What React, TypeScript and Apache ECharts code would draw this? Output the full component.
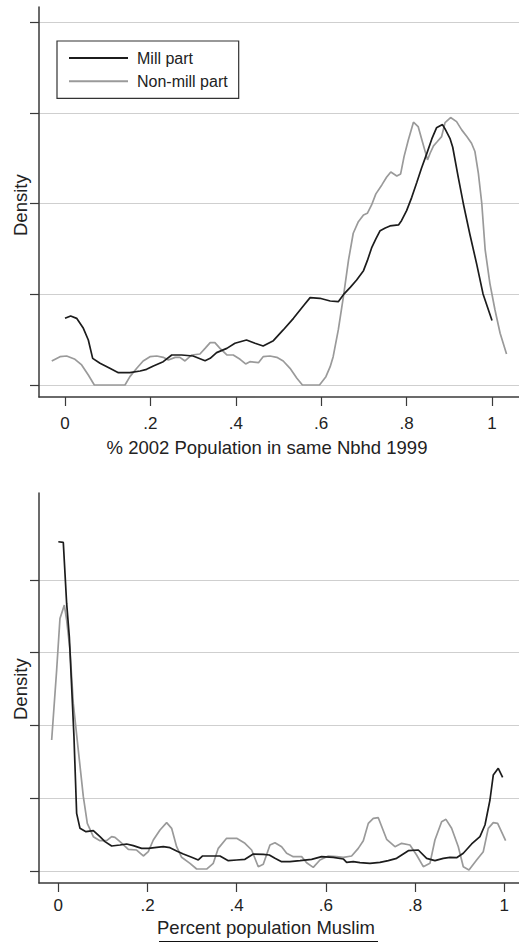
import React, { useEffect, useRef } from "react";
import * as echarts from "echarts";

// ---- Data ----
const seriesNames = ["Mill part", "Non-mill part"];
const xTickValues = [0, 0.2, 0.4, 0.6, 0.8, 1];
const yTickValuesTop = [0, 1, 2, 3, 4];
const yTickValuesBottom = [0, 1, 2, 3, 4];
const xTitleTop = "% 2002 Population in same Nbhd 1999";
const xTitleBottom = "Percent population Muslim";
const yTitle = "Density";

// Top panel: % 2002 population in same neighbourhood 1999
const millTopX = [0, 0.0133, 0.0273, 0.043, 0.0546, 0.0648, 0.082, 0.105, 0.125, 0.152, 0.176, 0.191, 0.207, 0.23, 0.25, 0.273, 0.3, 0.328, 0.34, 0.355, 0.379, 0.398, 0.425, 0.445, 0.464, 0.488, 0.511, 0.535, 0.558, 0.574, 0.597, 0.621, 0.64, 0.652, 0.668, 0.683, 0.699, 0.708, 0.718, 0.728, 0.738, 0.75, 0.761, 0.781, 0.788, 0.8, 0.812, 0.824, 0.835, 0.847, 0.859, 0.87, 0.884, 0.89, 0.902, 0.908, 0.921, 0.933, 0.948, 0.964, 0.979, 1.0];
const millTopY = [0.735, 0.761, 0.735, 0.625, 0.496, 0.294, 0.239, 0.184, 0.136, 0.136, 0.154, 0.173, 0.21, 0.257, 0.331, 0.331, 0.32, 0.268, 0.294, 0.357, 0.404, 0.46, 0.496, 0.46, 0.43, 0.489, 0.607, 0.735, 0.871, 0.963, 0.956, 0.926, 0.919, 0.996, 1.077, 1.158, 1.261, 1.371, 1.511, 1.61, 1.702, 1.732, 1.754, 1.765, 1.812, 1.922, 2.069, 2.235, 2.393, 2.548, 2.713, 2.835, 2.871, 2.823, 2.713, 2.621, 2.29, 1.996, 1.665, 1.335, 1.004, 0.71];
const nonMillTopX = [-0.031, -0.0117, 0.0039, 0.0234, 0.039, 0.0546, 0.0687, 0.082, 0.1405, 0.152, 0.168, 0.183, 0.199, 0.215, 0.23, 0.242, 0.258, 0.269, 0.281, 0.297, 0.316, 0.328, 0.34, 0.351, 0.363, 0.379, 0.394, 0.41, 0.423, 0.433, 0.453, 0.464, 0.48, 0.496, 0.511, 0.527, 0.543, 0.556, 0.596, 0.611, 0.621, 0.628, 0.64, 0.652, 0.664, 0.675, 0.687, 0.699, 0.708, 0.718, 0.728, 0.742, 0.753, 0.763, 0.777, 0.786, 0.794, 0.804, 0.816, 0.827, 0.838, 0.849, 0.855, 0.863, 0.872, 0.882, 0.89, 0.903, 0.917, 0.929, 0.941, 0.952, 0.96, 0.968, 0.976, 0.984, 0.995, 1.007, 1.019, 1.034];
const nonMillTopY = [0.265, 0.3125, 0.32, 0.283, 0.221, 0.11, 0, 0, 0, 0.092, 0.184, 0.265, 0.3125, 0.32, 0.305, 0.276, 0.305, 0.305, 0.265, 0.331, 0.342, 0.404, 0.467, 0.467, 0.404, 0.331, 0.331, 0.283, 0.232, 0.257, 0.246, 0.3125, 0.32, 0.305, 0.265, 0.184, 0.074, 0, 0, 0.092, 0.202, 0.3125, 0.607, 0.974, 1.379, 1.673, 1.801, 1.875, 1.893, 1.985, 2.107, 2.206, 2.29, 2.349, 2.305, 2.327, 2.518, 2.702, 2.897, 2.849, 2.665, 2.482, 2.555, 2.636, 2.684, 2.739, 2.893, 2.949, 2.904, 2.813, 2.739, 2.665, 2.574, 2.335, 2.004, 1.489, 1.121, 0.827, 0.57, 0.342];

// Bottom panel: percent population Muslim
const millBottomX = [0, 0.0112, 0.015, 0.0187, 0.0247, 0.0299, 0.0351, 0.0411, 0.0486, 0.062, 0.0785, 0.0934, 0.1046, 0.1196, 0.1383, 0.1532, 0.1682, 0.1868, 0.2018, 0.2205, 0.2354, 0.2504, 0.2653, 0.2803, 0.299, 0.3139, 0.3236, 0.3401, 0.3625, 0.3812, 0.3999, 0.4185, 0.4372, 0.4596, 0.4731, 0.4858, 0.5007, 0.5194, 0.5419, 0.568, 0.5904, 0.6166, 0.639, 0.6465, 0.6614, 0.6764, 0.6988, 0.7212, 0.7399, 0.7586, 0.7848, 0.8072, 0.8259, 0.8445, 0.8632, 0.8782, 0.8931, 0.9081, 0.9268, 0.9454, 0.9567, 0.9679, 0.9753, 0.9865, 0.9963];
const millBottomY = [4.522, 4.513, 4.087, 3.675, 3.217, 2.531, 1.844, 0.792, 0.586, 0.54, 0.554, 0.471, 0.403, 0.343, 0.357, 0.371, 0.348, 0.311, 0.311, 0.325, 0.334, 0.32, 0.275, 0.233, 0.188, 0.151, 0.206, 0.206, 0.206, 0.142, 0.151, 0.16, 0.233, 0.229, 0.22, 0.174, 0.128, 0.128, 0.142, 0.16, 0.197, 0.188, 0.165, 0.119, 0.128, 0.114, 0.105, 0.119, 0.142, 0.174, 0.279, 0.288, 0.174, 0.142, 0.174, 0.188, 0.183, 0.243, 0.371, 0.471, 0.632, 0.975, 1.318, 1.41, 1.286];
const nonMillBottomX = [-0.0149, -0.0037, 0.0037, 0.0135, 0.0187, 0.0262, 0.0336, 0.0448, 0.0561, 0.065, 0.0785, 0.0934, 0.1084, 0.1196, 0.1271, 0.1383, 0.157, 0.1756, 0.1906, 0.2018, 0.213, 0.228, 0.2429, 0.2541, 0.2653, 0.2765, 0.2952, 0.3102, 0.3326, 0.3475, 0.3587, 0.3774, 0.3999, 0.4185, 0.4335, 0.4484, 0.4596, 0.4746, 0.4858, 0.5007, 0.512, 0.5269, 0.5456, 0.5568, 0.5717, 0.5867, 0.6054, 0.6241, 0.639, 0.6577, 0.6726, 0.6839, 0.6951, 0.7063, 0.7175, 0.7362, 0.7549, 0.7698, 0.7885, 0.8034, 0.8184, 0.8333, 0.8445, 0.8595, 0.8692, 0.8819, 0.8969, 0.9081, 0.9208, 0.938, 0.9529, 0.9641, 0.9753, 0.9851, 1.003];
const nonMillBottomY = [1.799, 2.76, 3.469, 3.652, 3.446, 3.034, 2.302, 1.661, 1.021, 0.654, 0.471, 0.416, 0.416, 0.471, 0.462, 0.403, 0.297, 0.288, 0.206, 0.265, 0.426, 0.563, 0.664, 0.586, 0.334, 0.188, 0.105, 0.027, 0.027, 0.105, 0.311, 0.449, 0.449, 0.38, 0.288, 0.059, 0.092, 0.357, 0.389, 0.334, 0.243, 0.197, 0.197, 0.114, 0.05, 0.151, 0.206, 0.197, 0.188, 0.206, 0.311, 0.416, 0.654, 0.723, 0.732, 0.435, 0.334, 0.38, 0.357, 0.22, 0.059, 0.105, 0.426, 0.677, 0.709, 0.586, 0.334, 0.059, 0.014, 0.151, 0.265, 0.586, 0.664, 0.654, 0.416];

const zip = (xs: number[], ys: number[]) => xs.map((x, i) => [x, ys[i]]);

const FONT = '"Liberation Sans", Arial, Helvetica, sans-serif';
const MILL_COLOR = "#1c1c1c";
const NONMILL_COLOR = "#9a9a9a";
const AXIS_COLOR = "#3a3a3a";
const GRID_COLOR = "#cfcfcf";

const fmtTick = (v: number) => {
  const r = Math.round(v * 10) / 10;
  if (r === 0) return "0";
  if (r === 1) return "1";
  return String(r).replace(/^0\./, ".");
};

function xAxisCfg(gridIndex: number, min: number, max: number, labelMargin: number) {
  return {
    type: "value",
    gridIndex,
    min,
    max,
    axisLine: { show: true, onZero: false, lineStyle: { color: AXIS_COLOR, width: 1.5 } },
    axisTick: { show: true, length: 9, customValues: xTickValues, lineStyle: { color: AXIS_COLOR, width: 1.2 } },
    axisLabel: {
      show: true,
      customValues: xTickValues,
      formatter: fmtTick,
      margin: labelMargin,
      color: "#222",
      fontFamily: FONT,
      fontSize: 17,
    },
    splitLine: { show: false },
  };
}

function yAxisCfg(gridIndex: number, min: number, max: number, ticks: number[]) {
  return {
    type: "value",
    gridIndex,
    min,
    max,
    axisLine: { show: true, onZero: false, lineStyle: { color: AXIS_COLOR, width: 1.5 } },
    axisTick: { show: true, length: 9, customValues: ticks, lineStyle: { color: AXIS_COLOR, width: 1.2 } },
    axisLabel: { show: false, customValues: ticks },
    splitLine: { show: true, lineStyle: { color: GRID_COLOR, width: 1.2 } },
  };
}

function lineSeries(name: string, data: number[][], color: string, idx: number) {
  return {
    type: "line",
    name,
    data,
    xAxisIndex: idx,
    yAxisIndex: idx,
    symbol: "none",
    showSymbol: false,
    smooth: false,
    lineStyle: { color, width: 1.7 },
    itemStyle: { color },
    silent: true,
    z: name === seriesNames[0] ? 3 : 2,
  };
}

export default function App() {
  const ref = useRef<HTMLDivElement>(null);
  useEffect(() => {
    if (!ref.current) return;
    const chart = echarts.init(ref.current, null, { renderer: "svg" });
    chart.setOption({
      animation: false,
      backgroundColor: "#ffffff",
      grid: [
        { left: 39, top: 7, width: 480, height: 390 },
        { left: 39, top: 493, width: 480, height: 390 },
      ],
      xAxis: [
        xAxisCfg(0, -0.0609, 1.0632, 18),
        xAxisCfg(1, -0.0433, 1.033, 14),
      ],
      yAxis: [
        yAxisCfg(0, -0.1323, 4.1676, yTickValuesTop),
        yAxisCfg(1, -0.165, 5.192, yTickValuesBottom),
      ],
      legend: {
        show: true,
        data: seriesNames,
        orient: "vertical",
        left: 57,
        top: 41,
        itemWidth: 59,
        itemHeight: 14,
        itemGap: 7.3,
        padding: [9, 11, 9, 11],
        borderColor: "#333",
        borderWidth: 1.2,
        selectedMode: false,
        itemStyle: { color: "transparent", borderColor: "transparent", borderWidth: 0, opacity: 0 },
        textStyle: { fontFamily: FONT, fontSize: 16, lineHeight: 14, color: "#222", padding: [0, 0, 0, 4] },
      },
      graphic: [
        {
          type: "text",
          x: 11,
          y: 236,
          rotation: Math.PI / 2,
          style: { text: yTitle, font: `18.5px ${FONT}`, fill: "#222" },
        },
        {
          type: "text",
          x: 267,
          y: 447,
          style: { text: xTitleTop, font: `18.5px ${FONT}`, fill: "#222", align: "center", verticalAlign: "middle" },
        },
        {
          type: "text",
          x: 11,
          y: 720,
          rotation: Math.PI / 2,
          style: { text: yTitle, font: `18.5px ${FONT}`, fill: "#222" },
        },
        {
          type: "text",
          x: 266,
          y: 927,
          style: { text: xTitleBottom, font: `18.5px ${FONT}`, fill: "#222", align: "center", verticalAlign: "middle" },
        },
        {
          type: "line",
          shape: { x1: 159, y1: 941.5, x2: 378, y2: 941.5 },
          style: { stroke: "#111", lineWidth: 1 },
        },
      ],
      series: [
        lineSeries(seriesNames[1], zip(nonMillTopX, nonMillTopY), NONMILL_COLOR, 0),
        lineSeries(seriesNames[0], zip(millTopX, millTopY), MILL_COLOR, 0),
        lineSeries(seriesNames[1], zip(nonMillBottomX, nonMillBottomY), NONMILL_COLOR, 1),
        lineSeries(seriesNames[0], zip(millBottomX, millBottomY), MILL_COLOR, 1),
      ],
    });
    return () => chart.dispose();
  }, []);
  return (
    <div
      ref={ref}
      style={{ position: "absolute", left: 0, top: 0, width: 519, height: 943, background: "#fff" }}
    />
  );
}
